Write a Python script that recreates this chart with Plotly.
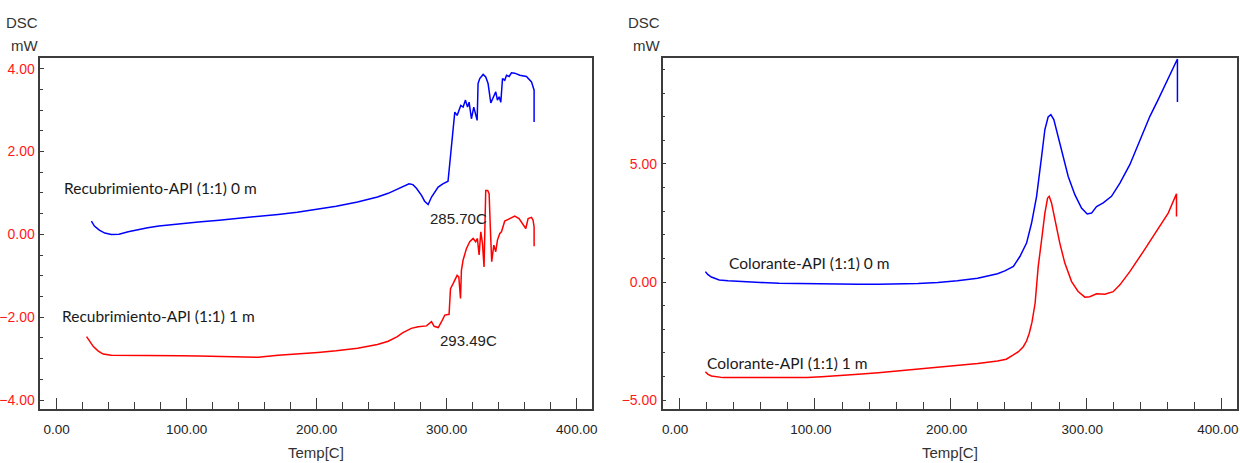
import plotly.graph_objects as go

# ---------------- data ----------------
# Left panel: Recubrimiento-API (1:1)
left_x_0m = [26.7, 29, 32.8, 37, 42, 48, 55, 60.2, 70, 78.6, 95, 109, 125, 139.7, 155, 170.3, 185, 200.9,
             215, 231.4, 246.7, 255, 262, 267, 271, 274, 276.7, 280.6, 283, 285.7, 288.3, 293.4, 297, 301,
             301.8, 302.9, 304.4, 305.7, 306.2, 308, 309.5, 310.8, 312.6, 314.4, 316, 317.2, 319, 320.8,
             323.4, 324.1, 325.4, 328, 330, 331.8, 333.9, 335.6, 337.7, 339, 340.3, 341.6, 342.9, 344.6,
             346, 348, 349.8, 352.3, 356.2, 361.3, 365.2, 367.2, 367.2]
left_y_0m = [0.32, 0.2, 0.1, 0.03, -0.003, 0.0, 0.06, 0.1, 0.16, 0.2, 0.26, 0.30, 0.34, 0.38, 0.43, 0.48,
             0.53, 0.6, 0.68, 0.78, 0.9, 0.99, 1.09, 1.17, 1.22, 1.2, 1.11, 0.94, 0.8, 0.72, 0.90, 1.14,
             1.22, 1.28, 1.55, 2.03, 2.43, 2.83, 2.95, 2.87, 3.0, 3.11, 3.07, 3.24, 3.07, 3.19, 2.79, 3.07,
             2.75, 3.64, 3.76, 3.86, 3.8, 3.64, 3.17, 3.28, 3.44, 3.24, 3.32, 3.19, 3.76, 3.72, 3.84, 3.81,
             3.9, 3.89, 3.84, 3.81, 3.68, 3.48, 2.71]

left_x_1m = [23, 25.5, 28.2, 32, 35.8, 42, 60, 78.6, 95, 109.2, 125, 139.8, 155, 170.3, 185, 200.9, 215,
             231.4, 246.7, 255, 262, 266, 272.7, 278, 284.4, 288.3, 290.3, 293.49, 296, 298.5, 301.8,
             302.9, 304.9, 308, 309.3, 310.6, 311.3, 312.6, 315.2, 317.7, 320.3, 322.3, 323.6, 324.9,
             326.2, 327.5, 328.7, 330, 331.5, 332.6, 333.6, 334.6, 336.2, 337.7, 339, 340.8, 342.1,
             344.6, 348.5, 352.3, 355.6, 358.7, 360.8, 362.6, 365.2, 366.4, 367.2, 367.2]
left_y_1m = [-2.47, -2.6, -2.71, -2.82, -2.89, -2.92, -2.92, -2.92, -2.93, -2.94, -2.95, -2.96, -2.97,
             -2.92, -2.89, -2.85, -2.81, -2.75, -2.66, -2.58, -2.47, -2.38, -2.27, -2.23, -2.21, -2.11,
             -2.22, -2.25, -2.11, -1.95, -1.93, -1.31, -1.19, -0.99, -1.03, -1.55, -0.87, -0.62, -0.34,
             -0.18, -0.10, -0.18, -0.10, -0.50, 0.06, -0.22, -0.79, 1.06, 1.06, 0.98, 0.1, -0.66, -0.26,
             -0.42, -0.14, 0.02, 0.06, 0.32, 0.38, 0.44, 0.38, 0.22, 0.14, 0.38, 0.41, 0.34, 0.18, -0.29]

# Right panel: Colorante-API (1:1)
right_x_0m = [19.3, 21, 23.7, 29.5, 36, 44.1, 60, 73.5, 90, 102.7, 118, 132, 147, 161.3, 176, 190.6, 205,
              219.9, 227, 234.6, 240, 246.3, 251.1, 256, 259.7, 263.4, 267.1, 269.5, 271.9, 273.9, 276.1,
              279.3, 283, 286.7, 291.6, 296.5, 300.7, 303.9, 307.6, 312.5, 318.6, 324.8, 332.1, 339.5,
              346.9, 353, 360, 367.2, 367.2]
right_y_0m = [0.44, 0.32, 0.21, 0.09, 0.05, 0.02, -0.02, -0.05, -0.07, -0.08, -0.09, -0.09, -0.09, -0.08,
              -0.06, -0.02, 0.05, 0.16, 0.24, 0.35, 0.47, 0.66, 1.08, 1.65, 2.5, 3.63, 5.32, 6.46, 6.99,
              7.09, 6.88, 6.17, 5.25, 4.47, 3.70, 3.13, 2.88, 2.92, 3.2, 3.35, 3.63, 4.19, 4.97, 6.03,
              7.02, 7.73, 8.6, 9.45, 7.63]

right_x_1m = [19.3, 21, 23.7, 28, 32.4, 45, 58.8, 75, 94, 105, 117.4, 132, 146.7, 161, 176, 190, 205.3,
              220, 234.6, 241, 246.3, 250, 253.6, 256, 258, 260, 262.3, 264.6, 267.1, 269.5, 271.5,
              272.7, 274.4, 276.9, 280.5, 284.2, 289.2, 294, 299, 302.6, 307.6, 313.7, 319.8, 324.8,
              332.1, 342, 351.8, 360.4, 366.5, 366.5]
right_y_1m = [-3.80, -3.9, -3.98, -4.03, -4.05, -4.05, -4.05, -4.05, -4.04, -4.01, -3.97, -3.91, -3.84,
              -3.77, -3.69, -3.61, -3.54, -3.45, -3.35, -3.27, -3.09, -2.95, -2.74, -2.5, -2.17, -1.7,
              -0.9, 0.66, 1.79, 2.92, 3.56, 3.63, 3.35, 2.64, 1.65, 0.8, 0.02, -0.4, -0.64, -0.62, -0.5,
              -0.52, -0.41, -0.12, 0.44, 1.29, 2.14, 2.92, 3.74, 2.78]

# labels
left_labels = ["Recubrimiento-API (1:1) 0 m", "Recubrimiento-API (1:1) 1 m"]
left_label_x = [4.1, 2.2]
left_label_y = [1.12, -1.97]
right_labels = ["Colorante-API (1:1) 0 m", "Colorante-API (1:1) 1 m"]
right_label_x = [35.4, 18.7]
right_label_y = [0.8, -3.44]
peak_labels = ["285.70C", "293.49C"]
peak_label_x = [285.8, 293.4]
peak_label_y = [0.39, -2.57]

x_tickvals = [0, 100, 200, 300, 400]

# ---------------- figure ----------------
NARROW = "Liberation Sans, Arial, sans-serif"
LABELF = "Lato, sans-serif"
BLUE = "#0000ff"
RED = "#ff0000"
FRAME = "#3c3c3c"

fig = go.Figure()
fig.add_trace(go.Scatter(x=left_x_0m, y=left_y_0m, mode="lines", line=dict(color=BLUE, width=1.5),
                         xaxis="x", yaxis="y", showlegend=False))
fig.add_trace(go.Scatter(x=left_x_1m, y=left_y_1m, mode="lines", line=dict(color=RED, width=1.5),
                         xaxis="x", yaxis="y", showlegend=False))
fig.add_trace(go.Scatter(x=right_x_0m, y=right_y_0m, mode="lines", line=dict(color=BLUE, width=1.5),
                         xaxis="x2", yaxis="y2", showlegend=False))
fig.add_trace(go.Scatter(x=right_x_1m, y=right_y_1m, mode="lines", line=dict(color=RED, width=1.5),
                         xaxis="x2", yaxis="y2", showlegend=False))

ydom = [0.1166, 0.8747]

def xaxis_cfg(domain, rng, anchor, shift):
    return dict(domain=domain, range=rng, anchor=anchor, showgrid=False, zeroline=False,
                automargin=False, ticklabeloverflow="allow", ticklabelshift=shift,
                showline=True, linecolor=FRAME, linewidth=1.5, mirror=True,
                ticks="inside", ticklen=11, tickwidth=1.3, tickcolor=FRAME,
                tickvals=x_tickvals, tickformat=".2f",
                minor=dict(dtick=20, ticks="inside", ticklen=7, tickwidth=1.3, tickcolor=FRAME, tick0=0),
                tickfont=dict(family=NARROW, size=13.5, color="#222222"),
                ticklabelstandoff=7)

def yaxis_cfg(rng, anchor, dtick, mdtick):
    return dict(domain=ydom, range=rng, anchor=anchor, showgrid=False, zeroline=False,
                automargin=False, ticklabeloverflow="allow",
                showline=True, linecolor=FRAME, linewidth=1.5, mirror=True,
                ticks="inside", ticklen=4, tickwidth=1, tickcolor=FRAME,
                dtick=dtick, tick0=0, tickformat=".2f",
                minor=dict(dtick=mdtick, ticks="inside", ticklen=3, tickwidth=1, tickcolor=FRAME, tick0=0),
                tickfont=dict(family=NARROW, size=14, color="#ff1a1a"),
                ticklabelstandoff=1)

fig.update_layout(
    width=1240, height=463, autosize=False,
    margin=dict(l=0, r=0, t=0, b=0, autoexpand=False),
    paper_bgcolor="white", plot_bgcolor="white",
    xaxis=xaxis_cfg([0.0325, 0.4777], [-12.6, 412], "y", 0),
    yaxis=yaxis_cfg([-4.217, 4.256], "x", 2, 0.5),
    xaxis2=xaxis_cfg([0.5344, 0.9978], [-12.2, 411.3], "y2", -4),
    yaxis2=yaxis_cfg([-5.38, 9.49], "x2", 5, 1),
)

ann = []
for t, x, y in zip(left_labels, left_label_x, left_label_y):
    ann.append(dict(text=t, x=x, y=y, xref="x", yref="y", xanchor="left", yanchor="middle",
                    showarrow=False, font=dict(family=LABELF, size=15.5, color="#1a1a1a")))
for t, x, y in zip(peak_labels, peak_label_x, peak_label_y):
    ann.append(dict(text=t, x=x, y=y, xref="x", yref="y", xanchor="left", yanchor="middle",
                    showarrow=False, font=dict(family=NARROW, size=15, color="#222222")))
for t, x, y in zip(right_labels, right_label_x, right_label_y):
    ann.append(dict(text=t, x=x, y=y, xref="x2", yref="y2", xanchor="left", yanchor="middle",
                    showarrow=False, font=dict(family=LABELF, size=15.5, color="#1a1a1a")))

# axis titles
for xc in [40 / 1240, 662 / 1240]:
    ann.append(dict(text="DSC", x=xc, y=1 - 23 / 463, xref="paper", yref="paper", xanchor="right",
                    yanchor="middle", showarrow=False, font=dict(family=NARROW, size=15, color="#333333")))
    ann.append(dict(text="mW", x=xc, y=1 - 45 / 463, xref="paper", yref="paper", xanchor="right",
                    yanchor="middle", showarrow=False, font=dict(family=NARROW, size=15, color="#333333")))
for xc in [(40.3 + 592.3) / 2 / 1240, (662.7 + 1237.3) / 2 / 1240]:
    ann.append(dict(text="Temp[C]", x=xc, y=1 - 452 / 463, xref="paper", yref="paper", xanchor="center",
                    yanchor="middle", showarrow=False, font=dict(family=NARROW, size=15, color="#333333")))

fig.update_layout(annotations=ann)
fig.write_html("out.html")
